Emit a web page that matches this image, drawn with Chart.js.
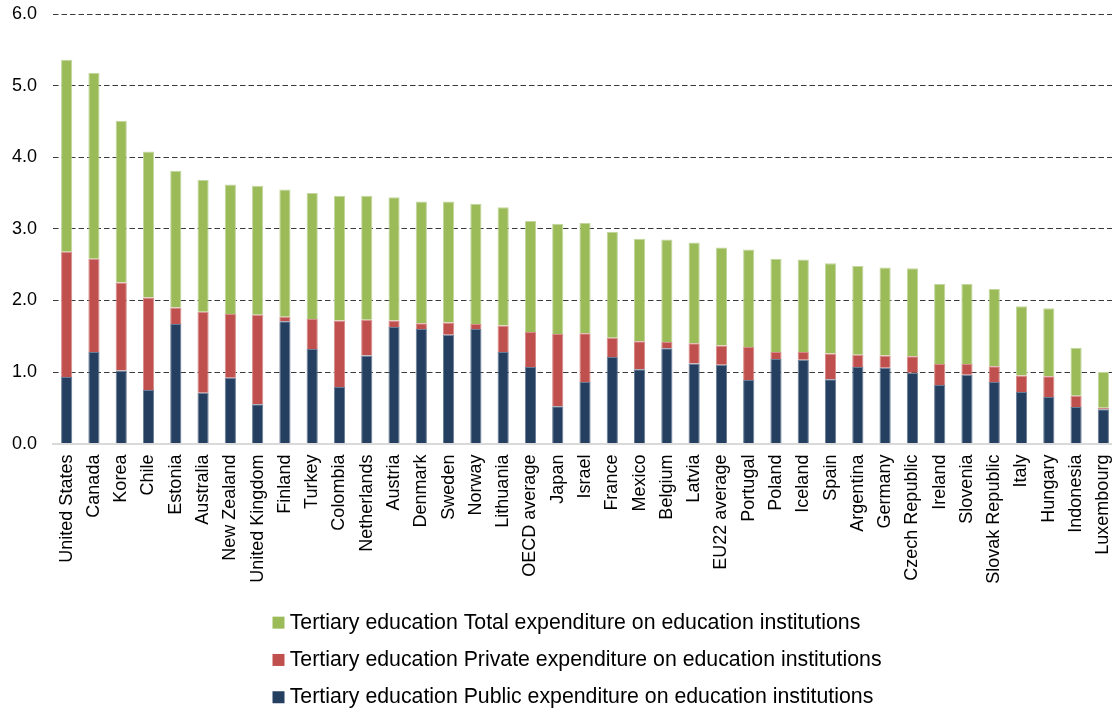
<!DOCTYPE html>
<html>
<head>
<meta charset="utf-8">
<title>Tertiary education expenditure on educational institutions</title>
<script src="https://cdn.jsdelivr.net/npm/chart.js@4/dist/chart.umd.min.js"></script>
<style>
  html, body { margin: 0; padding: 0; background: #ffffff; overflow: hidden; }
  /* the plot runs a few pixels past the right edge of the frame */
  #wrap { position: relative; width: 1112px; height: 712px; overflow: hidden; }
  #chart { position: absolute; left: 0; top: 0; }
</style>
</head>
<body>
<div id="wrap"><canvas id="chart" width="1117" height="712"></canvas></div>
<script>
// Countries, ranked by total tertiary spending (% of GDP)
const countries = [
  'United States', 'Canada', 'Korea', 'Chile', 'Estonia', 'Australia', 'New Zealand',
  'United Kingdom', 'Finland', 'Turkey', 'Colombia', 'Netherlands', 'Austria', 'Denmark',
  'Sweden', 'Norway', 'Lithuania', 'OECD average', 'Japan', 'Israel', 'France', 'Mexico',
  'Belgium', 'Latvia', 'EU22 average', 'Portugal', 'Poland', 'Iceland', 'Spain',
  'Argentina', 'Germany', 'Czech Republic', 'Ireland', 'Slovenia', 'Slovak Republic',
  'Italy', 'Hungary', 'Indonesia', 'Luxembourg'
];

const publicSpend = [
  0.93, 1.28, 1.02, 0.75, 1.67, 0.71, 0.92, 0.55, 1.71, 1.32, 0.79, 1.23, 1.63, 1.60,
  1.52, 1.60, 1.28, 1.07, 0.52, 0.86, 1.21, 1.04, 1.33, 1.12, 1.10, 0.89, 1.18, 1.17,
  0.90, 1.07, 1.06, 0.99, 0.82, 0.96, 0.86, 0.72, 0.65, 0.51, 0.48
];

const privateSpend = [
  1.75, 1.30, 1.23, 1.29, 0.23, 1.13, 0.89, 1.25, 0.06, 0.42, 0.93, 0.50, 0.09, 0.08,
  0.17, 0.07, 0.37, 0.49, 1.01, 0.68, 0.27, 0.39, 0.09, 0.28, 0.27, 0.46, 0.10, 0.11,
  0.36, 0.17, 0.17, 0.23, 0.29, 0.15, 0.22, 0.23, 0.29, 0.16, 0.02
];

const totalSpend = [
  2.68, 2.60, 2.26, 2.04, 1.91, 1.84, 1.81, 1.80, 1.78, 1.76, 1.74, 1.73, 1.72, 1.70,
  1.69, 1.68, 1.65, 1.55, 1.54, 1.54, 1.48, 1.43, 1.43, 1.41, 1.37, 1.36, 1.30, 1.29,
  1.26, 1.24, 1.23, 1.23, 1.12, 1.12, 1.08, 0.97, 0.95, 0.67, 0.50
];

const yTicks = [0, 1, 2, 3, 4, 5, 6];

const seriesNames = [
  'Tertiary education Public expenditure on education institutions',
  'Tertiary education Private expenditure on education institutions',
  'Tertiary education Total expenditure on education institutions'
];
const seriesColors = ['#243F60', '#C0504D', '#9BBB59'];
const seriesEdges  = ['#6A7D96', '#D68C8A', '#C2D69E'];

const FONT = "'Liberation Sans', Arial, Helvetica, sans-serif";
const LEGEND_X = 278;    // anchor of the legend items
const LEGEND_TOP = 596;  // top of the legend block
const SWATCH = 12;       // legend swatch size

// Stack the legend rows left-aligned in a single column
const legendColumn = {
  id: 'legendColumn',
  afterLayout(chart) {
    const lg = chart.legend;
    if (!lg) return;
    const pad = lg.options.labels.padding;
    const dx = LEGEND_X - (lg.left + pad);
    lg.left += dx;
    lg.right += dx;
    const dy = LEGEND_TOP - lg.top;
    lg.top += dy;
    lg.bottom += dy;
  }
};

new Chart(document.getElementById('chart'), {
  type: 'bar',
  data: {
    labels: countries,
    datasets: [publicSpend, privateSpend, totalSpend].map((vals, i) => ({
      label: seriesNames[i],
      data: vals,
      backgroundColor: seriesColors[i],
      borderColor: seriesEdges[i],
      borderWidth: { top: 1, left: 1, right: 1, bottom: 0 },
      borderSkipped: false,
      categoryPercentage: 1.0,
      barPercentage: 0.41
    }))
  },
  options: {
    responsive: false,
    animation: false,
    devicePixelRatio: 1,
    layout: { padding: { top: 14, left: -4, right: 0, bottom: -4.5 } },
    plugins: {
      tooltip: { enabled: false },
      legend: {
        position: 'bottom',
        align: 'start',
        reverse: true,
        labels: {
          color: '#000000',
          font: { family: FONT, size: 21.3 },
          boxWidth: 1,
          boxHeight: 1,
          padding: 16,
          // a 1px box stroked with a wide pen gives a compact square swatch
          generateLabels(chart) {
            const items = Chart.defaults.plugins.legend.labels.generateLabels(chart);
            return items.map(it => Object.assign(it, {
              strokeStyle: it.fillStyle,
              lineWidth: SWATCH - 1,
              lineJoin: 'miter',
              lineCap: 'butt',
              borderRadius: 0
            }));
          }
        }
      }
    },
    scales: {
      x: {
        stacked: true,
        grid: { display: false, drawTicks: false },
        border: { display: true, color: '#D9D9D9', width: 2 },
        ticks: {
          color: '#000000',
          font: { family: FONT, size: 18 },
          autoSkip: false,
          maxRotation: 90,
          minRotation: 90,
          padding: 11
        },
        afterFit(scale) {
          scale.height = 151;
          scale.paddingLeft = 0;
          scale.paddingRight = 0;
        }
      },
      y: {
        stacked: true,
        min: yTicks[0],
        max: yTicks[yTicks.length - 1],
        afterBuildTicks(scale) {
          scale.ticks = yTicks.map(v => ({ value: v }));
        },
        afterFit(scale) {
          scale.paddingTop = 0;
          scale.paddingBottom = 0;
        },
        grid: {
          drawTicks: false,
          color: ctx => (ctx.tick && ctx.tick.value === 0) ? 'rgba(0,0,0,0)' : '#3A3A3A',
          lineWidth: 1
        },
        border: { display: false, dash: [5.5, 3] },
        ticks: {
          color: '#000000',
          font: { family: FONT, size: 18 },
          padding: 16,
          callback: v => Number(v).toFixed(1)
        }
      }
    }
  },
  plugins: [legendColumn]
});
</script>
</body>
</html>
